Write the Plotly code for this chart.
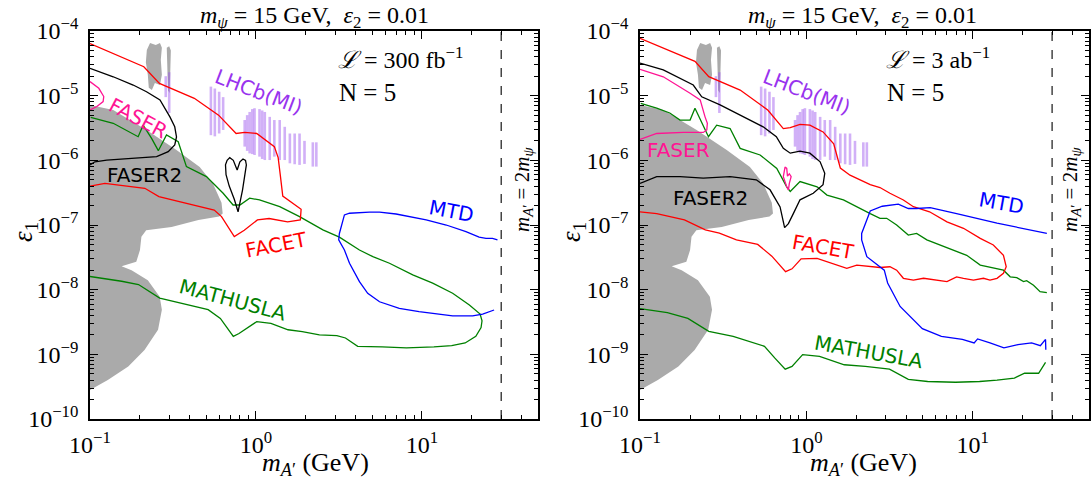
import plotly.graph_objects as go
import math

# ---------------- data: (m_A' [GeV], epsilon_1) ----------------
gray_region = [(0.1, 7.2e-6), (0.138, 6.0e-6), (0.219, 2.95e-6), (0.332, 1.45e-6), (0.458, 7.9e-7),
               (0.55, 4.4e-7), (0.62, 2.2e-7), (0.63, 1.5e-7), (0.60, 1.35e-7), (0.45, 1.2e-7),
               (0.31, 9.3e-8), (0.218, 8.3e-8), (0.204, 6.6e-8), (0.2, 4.1e-8), (0.19, 2.7e-8),
               (0.155, 2.3e-8), (0.178, 2.0e-8), (0.223, 1.4e-8), (0.263, 7.8e-9), (0.271, 4.9e-9),
               (0.257, 2.4e-9), (0.213, 1.17e-9), (0.17, 6.5e-10), (0.128, 4.0e-10), (0.1, 2.8e-10)]
gray_blob1 = [(0.220, 5.1e-5), (0.230, 6.5e-5), (0.249, 6.1e-5), (0.264, 6.5e-5), (0.271, 5.5e-5),
              (0.267, 3.6e-5), (0.271, 2.1e-5), (0.264, 1.46e-5), (0.246, 1.57e-5), (0.236, 1.22e-5),
              (0.226, 1.32e-5), (0.223, 2.1e-5), (0.217, 3.3e-5)]
gray_blob2 = [(0.290, 5.5e-5), (0.300, 5.8e-5), (0.307, 5.0e-5), (0.305, 2.5e-5), (0.302, 1.1e-5),
              (0.295, 1.2e-5), (0.292, 3.0e-5)]

# LHCb(MI) vertical stripes: mass, top, bottom
lhcb_mass = [0.286, 0.300, 0.535, 0.565, 0.600, 0.634, 0.855, 0.885, 0.916, 0.95, 0.98, 1.05, 1.09,
             1.13, 1.21, 1.29, 1.39, 1.49, 1.6, 1.71, 1.83, 1.96, 2.2, 2.31]
lhcb_top = [2.0e-5, 2.3e-5, 1.38e-5, 1.29e-5, 1.15e-5, 9.5e-6, 4.2e-6, 5.0e-6, 5.6e-6, 6.2e-6, 6.4e-6,
            6.2e-6, 5.9e-6, 5.6e-6, 4.7e-6, 4.2e-6, 4.2e-6, 3.3e-6, 2.6e-6, 2.6e-6, 2.6e-6, 2.0e-6,
            1.9e-6, 1.9e-6]
lhcb_bot = [9.5e-6, 5.4e-6, 2.45e-6, 2.35e-6, 2.6e-6, 2.95e-6, 1.63e-6, 1.4e-6, 1.28e-6, 1.25e-6,
            1.21e-6, 1.14e-6, 1.05e-6, 1.01e-6, 1.01e-6, 1.14e-6, 1.01e-6, 1.01e-6, 9.0e-7, 8.7e-7,
            8.5e-7, 8.8e-7, 8.0e-7, 8.0e-7]

# ---- left panel: L = 300 fb^-1 ----
facet_L = [(0.1, 6.4e-5), (0.211, 2.8e-5), (0.262, 1.55e-5), (0.425, 9.1e-6), (0.595, 5.0e-6),
           (0.759, 2.6e-6), (0.855, 2.7e-6), (1.01, 2.6e-6), (1.29, 1.63e-6), (1.36, 1.1e-6),
           (1.40, 6.0e-7), (1.45, 2.8e-7), (1.87, 1.75e-7), (1.85, 1.2e-7), (1.55, 1.12e-7),
           (1.2, 1.26e-7), (1.02, 1.2e-7), (0.85, 8.3e-8), (0.74, 6.6e-8), (0.62, 1.35e-7),
           (0.56, 1.7e-7), (0.37, 2.2e-7), (0.26, 2.75e-7), (0.214, 3.7e-7), (0.123, 4.4e-7),
           (0.1, 4.0e-7)]
faser2_L = [(0.1, 2.65e-5), (0.138, 1.96e-5), (0.182, 1.46e-5), (0.219, 1.15e-5), (0.264, 8.6e-6),
            (0.303, 4.7e-6), (0.324, 3.3e-6), (0.332, 2.3e-6), (0.324, 1.73e-6), (0.296, 1.36e-6),
            (0.252, 1.14e-6), (0.19, 1.08e-6), (0.126, 1.01e-6), (0.107, 9.5e-7), (0.1, 8.5e-7)]
faser2_L_loop = [(0.78, 1.6e-7), (0.74, 2.5e-7), (0.69, 4.0e-7), (0.66, 6.0e-7), (0.655, 8.5e-7),
                 (0.67, 1.0e-6), (0.695, 1.1e-6), (0.73, 1.0e-6), (0.77, 7.1e-7), (0.80, 9.5e-7),
                 (0.835, 1.05e-6), (0.865, 1.0e-6), (0.875, 8.5e-7), (0.86, 6.0e-7), (0.83, 3.5e-7),
                 (0.80, 2.2e-7), (0.78, 1.6e-7)]
faser_L = [(0.1, 1.65e-5), (0.113, 1.3e-5), (0.121, 9.7e-6), (0.12, 8.1e-6), (0.110, 6.8e-6),
           (0.1, 6.0e-6)]
mathusla_L = [(0.101, 4.6e-6), (0.138, 3.74e-6), (0.195, 2.32e-6), (0.209, 3.5e-6), (0.235, 2.19e-6),
              (0.258, 1.41e-6), (0.289, 2.47e-6), (0.34, 1.94e-6), (0.381, 8.0e-7), (0.503, 5.6e-7),
              (0.634, 3.1e-7), (0.728, 2.04e-7), (0.80, 2.04e-7), (0.916, 2.6e-7), (1.05, 2.44e-7),
              (1.39, 1.92e-7), (1.83, 1.35e-7), (2.53, 8.4e-8), (3.18, 6.5e-8), (4.2, 4.1e-8),
              (5.06, 3.24e-8), (6.37, 2.56e-8), (8.8, 1.69e-8), (11.6, 1.26e-8), (15.3, 8.8e-9),
              (19.3, 5.8e-9), (22.4, 4.2e-9), (23.0, 3.3e-9), (22.7, 2.6e-9), (21.1, 1.9e-9),
              (18.2, 1.5e-9), (15.1, 1.36e-9), (11.8, 1.3e-9), (8.06, 1.26e-9), (5.75, 1.3e-9),
              (4.1, 1.33e-9), (3.46, 1.79e-9), (3.07, 1.94e-9), (2.41, 2.0e-9), (1.9, 2.25e-9),
              (1.56, 2.4e-9), (1.23, 3.0e-9), (1.01, 3.2e-9), (0.92, 2.7e-9), (0.79, 2.1e-9),
              (0.73, 1.9e-9), (0.61, 3.6e-9), (0.515, 4.9e-9), (0.385, 5.9e-9), (0.263, 7.4e-9),
              (0.196, 1.2e-8), (0.155, 1.35e-8), (0.1, 1.6e-8)]
mtd_L = [(28.5, 5.9e-8), (26.6, 6.2e-8), (24.3, 6.2e-8), (22.1, 6.5e-8), (18.4, 7.9e-8), (14.0, 1.0e-7),
         (10.6, 1.2e-7), (6.98, 1.48e-7), (5.55, 1.58e-7), (4.83, 1.58e-7), (3.66, 1.52e-7),
         (3.41, 1.43e-7), (3.18, 7.4e-8), (3.15, 5.9e-8), (3.41, 4.1e-8), (3.66, 2.56e-8),
         (4.2, 1.33e-8), (4.71, 8.8e-9), (5.55, 6.5e-9), (7.3, 5.15e-9), (9.6, 4.57e-9),
         (12.7, 4.2e-9), (15.3, 3.92e-9), (20.2, 3.92e-9), (23.2, 4.2e-9), (27.2, 4.85e-9)]

# ---- right panel: L = 3 ab^-1 ----
facet_R = [(0.1, 7.7e-5), (0.214, 3.4e-5), (0.259, 1.97e-5), (0.40, 1.22e-5), (0.586, 6.0e-6),
           (0.727, 3.1e-6), (0.8, 3.2e-6), (0.916, 3.6e-6), (1.05, 3.5e-6), (1.26, 2.75e-6),
           (1.46, 1.8e-6), (1.6, 7.6e-7), (1.83, 5.9e-7), (2.42, 4.2e-7), (2.77, 3.8e-7),
           (3.18, 3.1e-7), (3.83, 2.44e-7), (4.4, 1.92e-7), (5.5, 1.6e-7), (7.0, 1.12e-7),
           (8.8, 8.9e-8), (11.1, 6.2e-8), (13.3, 4.9e-8), (15.3, 3.4e-8), (15.9, 2.26e-8),
           (15.3, 1.79e-8), (14.0, 1.5e-8), (12.7, 1.41e-8), (11.6, 1.5e-8), (10.1, 1.41e-8),
           (8.8, 1.5e-8), (8.0, 1.58e-8), (7.0, 1.33e-8), (6.1, 1.41e-8), (5.06, 1.5e-8),
           (4.4, 1.41e-8), (3.83, 1.5e-8), (3.49, 2.0e-8), (3.18, 2.26e-8), (2.77, 2.2e-8),
           (2.53, 2.26e-8), (2.01, 2.4e-8), (1.75, 2.14e-8), (1.45, 2.5e-8), (1.16, 3.05e-8),
           (0.93, 3.0e-8), (0.82, 2.1e-8), (0.75, 1.9e-8), (0.62, 3.3e-8), (0.51, 5.0e-8),
           (0.38, 5.9e-8), (0.3, 7.5e-8), (0.247, 8.4e-8), (0.185, 1.2e-7), (0.126, 1.5e-7),
           (0.1, 1.6e-7)]
faser2_R = [(0.1, 3.2e-5), (0.138, 2.5e-5), (0.209, 1.46e-5), (0.235, 9.6e-6), (0.303, 7.2e-6),
            (0.418, 4.7e-6), (0.55, 3.3e-6), (0.66, 2.32e-6), (0.727, 1.53e-6), (0.8, 1.29e-6),
            (0.916, 1.39e-6), (1.05, 1.29e-6), (1.21, 9.5e-7), (1.29, 6.3e-7), (1.26, 4.2e-7),
            (1.1, 3.1e-7), (0.916, 2.45e-7), (0.835, 1.5e-7), (0.78, 1.05e-7), (0.74, 9.1e-8),
            (0.695, 1.9e-7), (0.605, 3.5e-7), (0.5, 5.0e-7), (0.348, 5.6e-7), (0.24, 5.3e-7),
            (0.174, 5.6e-7), (0.126, 5.6e-7), (0.1, 4.4e-7)]
faser_R = [(0.1, 2.55e-5), (0.138, 1.96e-5), (0.2, 1.09e-5), (0.23, 8.6e-6), (0.246, 4.7e-6),
           (0.254, 3.74e-6), (0.252, 2.95e-6), (0.24, 2.7e-6), (0.182, 2.7e-6), (0.126, 2.6e-6),
           (0.1, 2.1e-6)]
faser_R_loop = [(0.745, 7.9e-7), (0.727, 5.6e-7), (0.762, 3.9e-7), (0.78, 3.5e-7), (0.79, 4.4e-7),
                (0.81, 5.6e-7), (0.79, 6.2e-7), (0.77, 5.7e-7), (0.762, 7.5e-7), (0.745, 7.9e-7)]
mathusla_R_up = [(0.101, 7.6e-6), (0.126, 6.4e-6), (0.151, 5.4e-6), (0.174, 4.2e-6), (0.2, 4.2e-6),
                 (0.214, 6.4e-6), (0.258, 2.32e-6), (0.289, 3.5e-6), (0.348, 3.1e-6), (0.40, 1.53e-6),
                 (0.527, 1.21e-6), (0.664, 7.5e-7), (0.762, 3.9e-7), (0.8, 3.3e-7), (0.916, 4.7e-7),
                 (1.16, 3.9e-7), (1.33, 2.9e-7), (1.67, 2.44e-7), (2.42, 1.5e-7), (2.77, 1.27e-7),
                 (3.04, 1.27e-7), (3.49, 1.0e-7), (4.1, 7.0e-8), (4.6, 7.4e-8), (5.3, 5.9e-8),
                 (6.37, 4.9e-8), (7.65, 4.1e-8), (9.2, 3.4e-8), (11.1, 2.4e-8), (13.3, 2.14e-8),
                 (15.3, 2.0e-8), (16.8, 1.58e-8), (18.4, 1.53e-8), (20.2, 1.33e-8), (21.1, 1.38e-8),
                 (23.2, 1.17e-8), (25.4, 9.3e-9), (27.9, 9.0e-9)]
mathusla_R_low = [(0.1, 5.1e-9), (0.146, 4.4e-9), (0.194, 3.6e-9), (0.259, 2.27e-9), (0.363, 1.9e-9),
                  (0.56, 1.33e-9), (0.645, 8.8e-10), (0.746, 5.9e-10), (0.82, 6.5e-10), (0.95, 9.9e-10),
                  (1.2, 9.3e-10), (1.69, 6.9e-10), (2.26, 6.5e-10), (3.16, 5.9e-10), (4.1, 4.1e-10),
                  (5.36, 3.8e-10), (7.87, 3.7e-10), (11.0, 3.8e-10), (14.0, 4.0e-10), (17.8, 4.3e-10),
                  (20.5, 5.1e-10), (24.9, 5.1e-10), (27.4, 7.5e-10)]
mtd_R = [(27.9, 7.4e-8), (14.0, 1.07e-7), (8.0, 1.5e-7), (5.55, 1.86e-7), (4.6, 1.8e-7), (4.1, 1.8e-7),
         (3.57, 2.1e-7), (2.86, 1.95e-7), (2.42, 1.65e-7), (2.15, 7.4e-8), (2.15, 5.9e-8),
         (2.31, 3.24e-8), (2.94, 2.0e-8), (3.08, 1.27e-8), (3.66, 5.5e-9), (4.98, 2.5e-9),
         (6.48, 1.9e-9), (8.66, 1.7e-9), (10.2, 1.5e-9), (10.7, 1.73e-9), (12.7, 1.5e-9),
         (15.4, 1.26e-9), (18.7, 1.41e-9), (22.6, 1.5e-9), (25.5, 1.36e-9), (27.4, 1.7e-9),
         (27.5, 1.18e-9)]

m_psi = 15.0
x_range = (0.1, 50.0)
y_range = (1e-10, 1e-4)

# ---------------- figure ----------------
OFF = 0  # the page's body margin is removed below, so screen position = figure position
W, H = 1091, 485
RED, GREEN, BLUE, BLACK = '#ff0000', '#008000', '#0000ff', '#000000'
PINK, PURPLE, GRAY = '#ff1493', '#9933ee', '#aaaaaa'
SERIF = 'Liberation Serif'
SANS = 'DejaVu Sans'


def fx(px):
    return (px - OFF) / W


def fy(py):
    return 1 - (py - OFF) / H


fig = go.Figure()


def add_curve(pts, color, xa, ya, width=1.3, fill=None, fillcolor=None, dash=None):
    fig.add_trace(go.Scatter(
        x=[p[0] for p in pts], y=[p[1] for p in pts], mode='lines',
        line=dict(color=color, width=width, dash=dash), fill=fill, fillcolor=fillcolor,
        xaxis=xa, yaxis=ya, showlegend=False, hoverinfo='skip'))


def add_stripes(xa, ya):
    xs, ys = [], []
    for m, t, b in zip(lhcb_mass, lhcb_top, lhcb_bot):
        xs += [m, m, None]
        ys += [b, t, None]
    fig.add_trace(go.Scatter(x=xs, y=ys, mode='lines',
                             line=dict(color='rgba(153,80,238,0.45)', width=2.6),
                             xaxis=xa, yaxis=ya, showlegend=False, hoverinfo='skip'))


panels = [
    dict(xa='x', ya='y', facet=facet_L, faser2=[faser2_L, faser2_L_loop], faser=[faser_L],
         mathusla=[mathusla_L], mtd=mtd_L),
    dict(xa='x2', ya='y2', facet=facet_R, faser2=[faser2_R], faser=[faser_R, faser_R_loop],
         mathusla=[mathusla_R_up, mathusla_R_low], mtd=mtd_R),
]

for p in panels:
    xa, ya = p['xa'], p['ya']
    add_curve(gray_region, GRAY, xa, ya, width=0, fill='toself', fillcolor=GRAY)
    add_curve(gray_blob1, GRAY, xa, ya, width=0, fill='toself', fillcolor=GRAY)
    add_curve(gray_blob2, GRAY, xa, ya, width=0, fill='toself', fillcolor=GRAY)
    add_stripes(xa, ya)
    for c in p['mathusla']:
        add_curve(c, GREEN, xa, ya)
    add_curve(p['facet'], RED, xa, ya)
    for c in p['faser2']:
        add_curve(c, BLACK, xa, ya)
    for c in p['faser']:
        add_curve(c, PINK, xa, ya)
    add_curve(p['mtd'], BLUE, xa, ya)
    add_curve([(2 * m_psi, y_range[0]), (2 * m_psi, y_range[1])], BLACK, xa, ya, width=1.1, dash='dash')

# axes
xmin_tick = [k * 10 ** e for e in (-1, 0, 1) for k in range(2, 10) if k * 10 ** e <= x_range[1]]
ymin_tick = [k * 10.0 ** e for e in range(-10, -4) for k in range(2, 10)]
sup = {-10: '−10', -9: '−9', -8: '−8', -7: '−7', -6: '−6', -5: '−5', -4: '−4', -1: '−1', 0: '0', 1: '1'}

xaxis_common = dict(
    type='log', range=[math.log10(x_range[0]), math.log10(x_range[1])], automargin=False,
    tickvals=[0.1, 1, 10], ticktext=['10<sup>%s</sup>' % sup[e] for e in (-1, 0, 1)],
    ticks='inside', ticklen=8, tickwidth=1.2, tickcolor='black', ticklabelstandoff=3,
    minor=dict(tickvals=xmin_tick, ticks='inside', ticklen=4, tickwidth=1, tickcolor='black', showgrid=False),
    showline=True, linecolor='black', linewidth=1.6, mirror='ticks', showgrid=False, zeroline=False,
    tickfont=dict(family=SERIF, size=24, color='black'),
)
yaxis_common = dict(
    type='log', range=[-10, -4], automargin=False,
    tickvals=[10.0 ** e for e in range(-10, -3)],
    ticktext=['10<sup>%s</sup>' % sup[e] for e in range(-10, -3)],
    ticks='inside', ticklen=8, tickwidth=1.2, tickcolor='black', ticklabelstandoff=5,
    minor=dict(tickvals=ymin_tick, ticks='inside', ticklen=4, tickwidth=1, tickcolor='black', showgrid=False),
    showline=True, linecolor='black', linewidth=1.6, mirror='ticks', showgrid=False, zeroline=False,
    tickfont=dict(family=SERIF, size=24, color='black'), domain=[fy(419), fy(31)],
)

fig.update_layout(
    template='none',
    width=W, height=H, margin=dict(l=0, r=0, t=0, b=0, pad=0), autosize=False,
    paper_bgcolor='white', plot_bgcolor='white', showlegend=False,
    xaxis=dict(xaxis_common, domain=[fx(90), fx(538)], anchor='y'),
    yaxis=dict(yaxis_common, anchor='x'),
    xaxis2=dict(xaxis_common, domain=[fx(640), fx(1089)], anchor='y2'),
    yaxis2=dict(yaxis_common, anchor='x2'),
)

# ---------------- text ----------------
ann = []


def txt(x, y, s, size=20, color='black', family=SANS, angle=0, xanchor='center'):
    ann.append(dict(x=fx(x), y=fy(y), xref='paper', yref='paper', text=s, showarrow=False,
                    font=dict(family=family, size=size, color=color), textangle=angle,
                    xanchor=xanchor, yanchor='middle'))


title = '<i>m</i><sub><i>ψ</i></sub> = 15 GeV,&nbsp; <i>ε</i><sub>2</sub> = 0.01'
xlabel = '<i>m</i><sub><i>A</i>′</sub> (GeV)'
ylabel = '<i>ε</i><sub>1</sub>'
vlabel = '<i>m</i><sub><i>A</i>′</sub> = 2<i>m</i><sub><i>ψ</i></sub>'

for dx, lum in ((0, '<i>ℒ</i> = 300 fb<sup>−1</sup>'), (548, '<i>ℒ</i> = 3 ab<sup>−1</sup>')):
    txt(314 + dx, 17, title, size=24, family=SERIF)
    txt(315 + dx, 464, xlabel, size=26, family=SERIF)
    txt(25 + dx, 232, ylabel, size=27, family=SERIF, angle=-90)
    txt(523 + dx, 190, vlabel, size=21, family=SERIF, angle=-90)
    txt(336 + dx, 58, lum, size=24, family=SERIF, xanchor='left')
    txt(337 + dx, 92, 'N = 5', size=25, family=SERIF, xanchor='left')
    txt(259 + dx, 92, 'LHCb(MI)', color=PURPLE, angle=21)

# left panel labels
txt(138, 118, 'FASER', color=PINK, angle=28)
txt(144, 175, 'FASER2')
txt(276, 245, 'FACET', color=RED, angle=-11)
txt(451, 211, 'MTD', color=BLUE, angle=11)
txt(233, 300, 'MATHUSLA', color=GREEN, angle=15)
# right panel labels
txt(678, 150, 'FASER', color=PINK)
txt(710, 198, 'FASER2')
txt(823, 247, 'FACET', color=RED, angle=10)
txt(1001, 203, 'MTD', color=BLUE, angle=10)
txt(869, 352, 'MATHUSLA', color=GREEN, angle=10)

fig.update_layout(annotations=ann)
fig.write_html('out.html', config={'displayModeBar': False},
               post_script="document.body.style.margin='0px';document.body.style.padding='0px';")
